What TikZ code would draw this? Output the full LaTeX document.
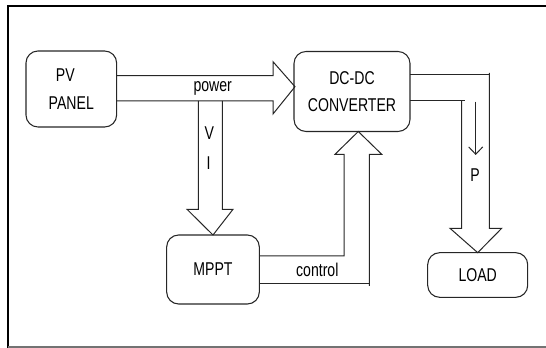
\documentclass[tikz,border=0pt]{standalone}
\usepackage{fontspec}
\setmainfont[FakeStretch=0.76]{Liberation Sans}
\usetikzlibrary{calc,arrows.meta}
\begin{document}
\begin{tikzpicture}[x=0.75pt,y=-0.75pt,
  box/.style={draw=black!85, line width=0.8pt, rounded corners=9pt, inner sep=0pt, outer sep=0pt, align=center,
    font=\fontsize{13.9}{20.5}\selectfont},
  lbl/.style={inner sep=0pt, font=\fontsize{13.9}{16}\selectfont},
  arr/.style={draw=black!85, line width=0.75pt, line join=miter}]
\useasboundingbox (0,0) rectangle (546,348);
% frame
\draw[line width=1.6pt] (546,6) -- (8,6) -- (8,348);
\draw[black!55, line width=1.2pt] (8,347) -- (546,347);
% boxes
\node[box, minimum width=68pt, minimum height=57pt] (pv) at (71.3,89) {PV\hspace*{9pt}\\PANEL};
\node[box, minimum width=87pt, minimum height=60pt] (dc) at (352,91.5) {DC-DC\\CONVERTER};
\node[box, minimum width=69.5pt, minimum height=51.75pt] (mppt) at (213,269.5) {MPPT};
\node[box, minimum width=75pt, minimum height=33.5pt] (load) at (477.7,275) {LOAD};
% power arrow
\draw[arr] ($(pv.east)+(0,-13.3)$) -- (273,75.7) -- (273,61.7) -- ($(dc.west)+(1,-4.8)$) -- (273,114) -- (273,101) -- ($(pv.east)+(0,12)$);
% V I arrow
\draw[arr] (198.3,101) -- (198.3,209.3) -- (187,209.3) -- (mppt.north) -- (233,209.3) -- (222.3,209.3) -- (222.3,101);
% control arrow
\draw[arr] ($(mppt.east)+(0,-13.5)$) -- (344,256) -- (344,154.3) -- (335,154.3) -- ($(dc.south)+(6.3,0)$) -- (381.7,154.3) -- (369.3,154.3) -- (369.3,286);
\draw[arr] ($(mppt.east)+(0,14.5)$) -- (369.3,284);
% output arrow
\draw[arr] ($(dc.east)+(0,-16.5)$) -- (489.3,75);
\draw[arr] (489.3,73) -- (489.3,228.3) -- (501.7,228.3) -- (load.north) -- (450,228.3) -- (461.7,228.3) -- (461.7,101);
\draw[arr] ($(dc.east)+(0,9.5)$) -- (465,101);
% small arrow
\coordinate (ps) at (475.7,101.7);
\coordinate (pe) at (475.7,155);
\draw[arr, -{Straight Barb[length=5.5pt,width=10.5pt]}] (ps) -- (pe);
% labels
\node[lbl] (tpow) at (212.7,88.3) {power};
\node[lbl] (tv) at (209.3,133.3) {V};
\node[lbl] (ti) at (208.5,163.3) {I};
\node[lbl] (tctl) at (317.3,270) {control};
\node[lbl] (tp) at (475,175) {P};
\end{tikzpicture}
\end{document}
